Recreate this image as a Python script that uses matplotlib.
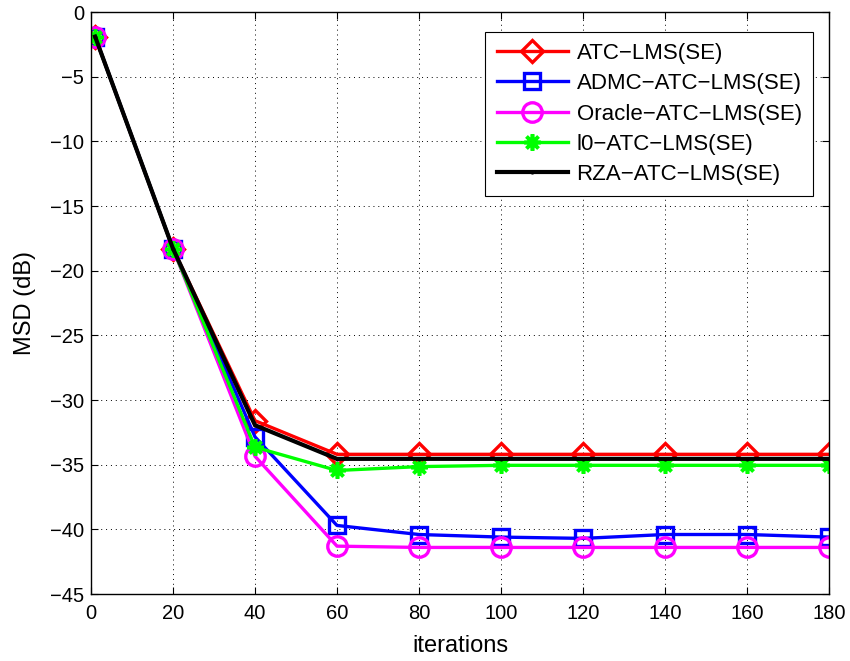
import numpy as np
import matplotlib.pyplot as plt

plt.rcParams['font.family'] = ['Liberation Sans', 'DejaVu Sans']

# iterations
it = [1, 20, 40, 60, 80, 100, 120, 140, 160, 180]

# MSD (dB) curves
msd_atc = [-1.9, -18.3, -31.6, -34.2, -34.2, -34.2, -34.2, -34.2, -34.2, -34.2]
msd_admc = [-1.9, -18.3, -32.85, -39.7, -40.4, -40.6, -40.7, -40.4, -40.4, -40.6]
msd_oracle = [-1.9, -18.3, -34.35, -41.3, -41.4, -41.4, -41.4, -41.4, -41.4, -41.4]
msd_l0 = [-1.9, -18.3, -33.65, -35.45, -35.15, -35.05, -35.05, -35.05, -35.05, -35.05]
msd_rza = [-1.9, -18.3, -31.95, -34.55, -34.55, -34.55, -34.55, -34.55, -34.55, -34.55]

labels = ['ATC\u2212LMS(SE)', 'ADMC\u2212ATC\u2212LMS(SE)', 'Oracle\u2212ATC\u2212LMS(SE)',
          'l0\u2212ATC\u2212LMS(SE)', 'RZA\u2212ATC\u2212LMS(SE)']

fig = plt.figure(figsize=(8.5, 6.61), dpi=100)
ax = fig.add_axes([91 / 850, 67 / 661, 738 / 850, 582 / 661])

lw = 2.4
ax.plot(it, msd_atc, color='#ff0000', lw=lw, marker='D', ms=11, mfc='none', mec='#ff0000', mew=2.4, label=labels[0])
ax.plot(it, msd_admc, color='#0000ff', lw=lw, marker='s', ms=11, mfc='none', mec='#0000ff', mew=2.4, label=labels[1])
ax.plot(it, msd_oracle, color='#ff00ff', lw=lw, marker='o', ms=14, mfc='none', mec='#ff00ff', mew=2.4, label=labels[2])
ax.plot(it, msd_l0, color='#00ff00', lw=lw, marker=(8, 2, 0), ms=12, mfc='#00ff00', mec='#00ff00', mew=2.6, label=labels[3])
ax.plot(it, msd_rza, color='black', lw=lw + 0.6, marker='.', ms=4, label=labels[4])

ax.set_xlim(0, 180)
ax.set_ylim(-45, 0)
ax.set_xticks(np.arange(0, 181, 20))
ax.set_yticks(np.arange(-45, 1, 5))
ax.tick_params(direction='in', top=True, right=True, labelsize=14.5, length=5, width=0.8)
ax.tick_params(axis='x', pad=7)
ax.tick_params(axis='y', pad=5)
ax.grid(True, linestyle=(0, (1, 4)), color='black', lw=0.7)
for s in ax.spines.values():
    s.set_linewidth(1.0)

ax.set_xlabel('iterations', fontsize=17, labelpad=9)
ax.set_ylabel('MSD (dB)', fontsize=17, labelpad=10)

leg = ax.legend(loc='upper right', bbox_to_anchor=(0.978, 0.966), borderaxespad=0,
                fontsize=16, handlelength=3.2, fancybox=False, framealpha=1,
                edgecolor='black', borderpad=0.5, labelspacing=0.42, handletextpad=0.4)
leg.get_frame().set_linewidth(0.8)

fig.savefig('out.png', dpi=100)
